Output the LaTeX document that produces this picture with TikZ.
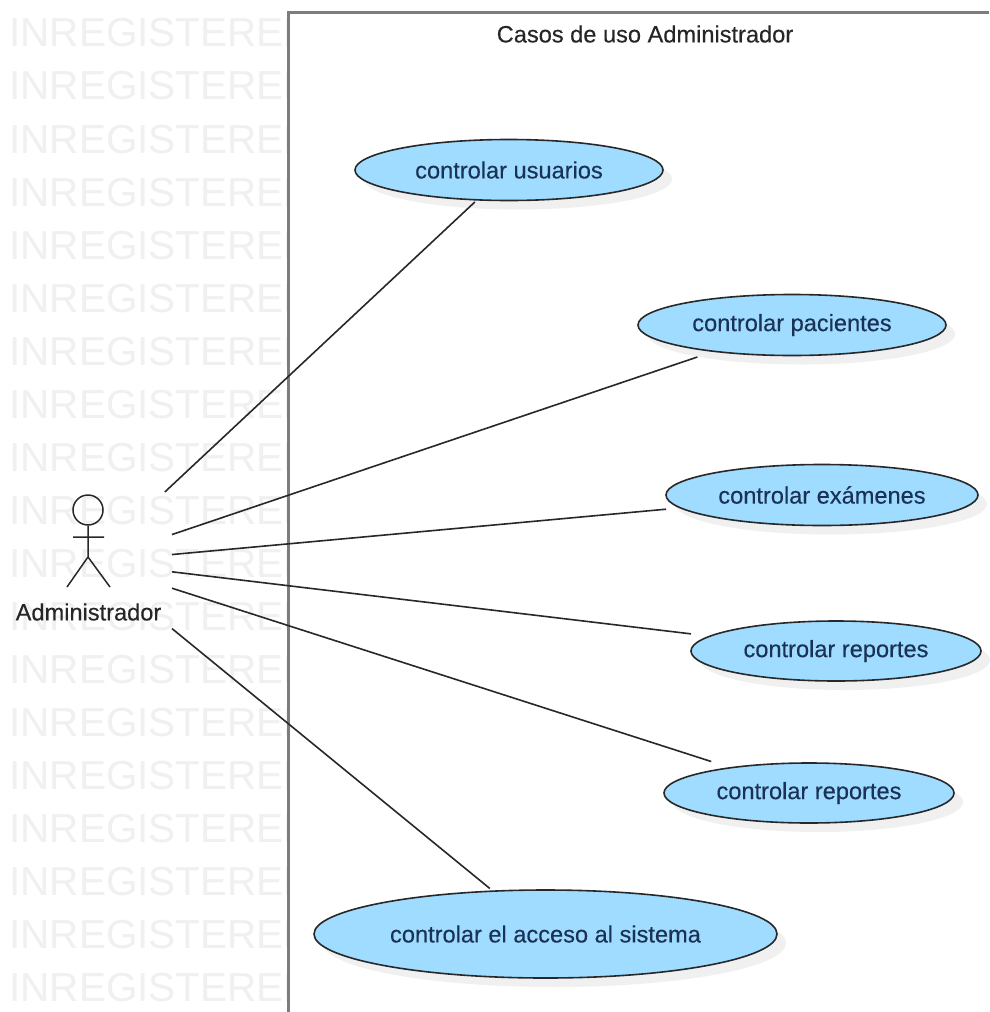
\documentclass[tikz,border=0pt]{standalone}
\usepackage{fontspec}
\setmainfont{Liberation Sans}
\newfontfamily\labelfont[FakeBold=0.3]{Liberation Sans}
\usetikzlibrary{shapes.geometric,shadows,fit}
\definecolor{ovalblue}{RGB}{160,220,255}
\definecolor{ovaltext}{RGB}{25,50,85}
\definecolor{framegray}{RGB}{125,125,125}
\definecolor{markgray}{RGB}{240,240,240}
\definecolor{linedark}{RGB}{40,40,40}
\begin{document}
\begin{tikzpicture}
[x=1pt,y=-1pt,
mark text/.style={inner sep=0,text=markgray,font=\fontsize{40.5}{44}\selectfont},
plain text/.style={text=black!85,font=\labelfont\fontsize{23.6}{26}\selectfont},
use case/.style={ellipse,draw=linedark,line width=1.6pt,fill=ovalblue,inner sep=0,outer sep=0,font=\labelfont\fontsize{23.6}{26}\selectfont,text=ovaltext,drop shadow={shadow xshift=9pt,shadow yshift=-9pt,fill=black!6,opacity=1}},
hit box/.style={rectangle,inner xsep=0,inner ysep=1.5pt,outer sep=0},
limb/.style={draw=linedark,line width=1.5pt}]
\useasboundingbox (0,0) rectangle (989,1012);
\fill[white] (0,0) rectangle (989,1012);
\begin{scope}[node distance=53.05pt]
\clip (11,0) rectangle (287,1012);
\node[mark text] (w1) at (161.3,33) {INREGISTERED};
\node[mark text] (w2) [below of=w1] {INREGISTERED};
\node[mark text] (w3) [below of=w2] {INREGISTERED};
\node[mark text] (w4) [below of=w3] {INREGISTERED};
\node[mark text] (w5) [below of=w4] {INREGISTERED};
\node[mark text] (w6) [below of=w5] {INREGISTERED};
\node[mark text] (w7) [below of=w6] {INREGISTERED};
\node[mark text] (w8) [below of=w7] {INREGISTERED};
\node[mark text] (w9) [below of=w8] {INREGISTERED};
\node[mark text] (w10) [below of=w9] {INREGISTERED};
\node[mark text] (w11) [below of=w10] {INREGISTERED};
\node[mark text] (w12) [below of=w11] {INREGISTERED};
\node[mark text] (w13) [below of=w12] {INREGISTERED};
\node[mark text] (w14) [below of=w13] {INREGISTERED};
\node[mark text] (w15) [below of=w14] {INREGISTERED};
\node[mark text] (w16) [below of=w15] {INREGISTERED};
\node[mark text] (w17) [below of=w16] {INREGISTERED};
\node[mark text] (w18) [below of=w17] {INREGISTERED};
\node[mark text] (w19) [below of=w18] {INREGISTERED};
\end{scope}
\draw[framegray,line width=3pt] (288,1012) -- (288,12) -- (989,12);
\node[plain text] (title) at (645,34) {Casos de uso Administrador};
\node[use case,minimum width=308pt,minimum height=61pt] (e1) at (509,170) {controlar usuarios};
\node[use case,minimum width=308pt,minimum height=61pt] (e2) at (792,325) {controlar pacientes};
\node[use case,minimum width=312pt,minimum height=61pt] (e3) at (822,495) {controlar exámenes};
\node[use case,minimum width=290pt,minimum height=60pt] (e4) at (836,651) {controlar reportes};
\node[use case,minimum width=290pt,minimum height=60pt] (e5) at (809,793) {controlar reportes};
\node[use case,minimum width=463pt,minimum height=88pt] (e6) at (545.5,934) {controlar el acceso al sistema};
\node[hit box,fit=(e1)] (u1) {};
\node[hit box,fit=(e2)] (u2) {};
\node[hit box,fit=(e3)] (u3) {};
\node[hit box,fit=(e4)] (u4) {};
\node[hit box,fit=(e5)] (u5) {};
\node[hit box,fit=(e6)] (u6) {};
\node[hit box,minimum width=164pt,minimum height=140pt] (actor) at (90,562) {};
\node[circle,limb,inner sep=0,minimum size=30pt] (head) at (88,510) {};
\coordinate (hip) at (88,557);
\coordinate (armL) at (73,537);
\coordinate (armR) at (104,537);
\coordinate (footL) at (67,587);
\coordinate (footR) at (110,587);
\draw[limb] (head) -- (hip) (armL) -- (armR) (footL) -- (hip) -- (footR);
\node[plain text] (name) at (88.5,612) {Administrador};
\path[draw=linedark,line width=1.6pt]
(actor) edge (u1)
edge (u2)
edge (u3)
edge (u4)
edge (u5)
edge (u6);
\end{tikzpicture}
\end{document}
